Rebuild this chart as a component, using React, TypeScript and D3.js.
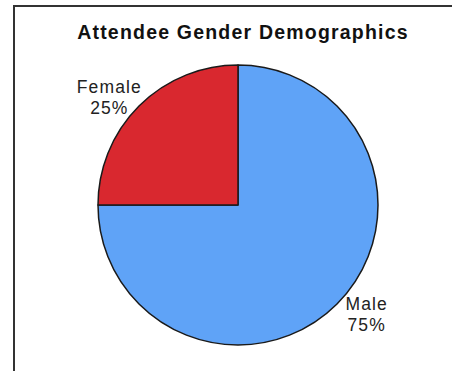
import React from "react";
import * as d3 from "d3";

const categories = ["Male", "Female"];
const values = [75, 25];
const percentLabels = ["75%", "25%"];
const colors = ["#5fa3f7", "#d9282f"];
const title = "Attendee Gender Demographics";

export default function App() {
  const width = 452;
  const height = 371;
  const cx = 238;
  const cy = 205;
  const r = 140;

  const pie = d3.pie<number>().sort(null).value((d) => d).startAngle(0).endAngle(2 * Math.PI);
  const arcs = pie(values);
  const arcGen = d3.arc<d3.PieArcDatum<number>>().innerRadius(0).outerRadius(r);

  const font = "'Liberation Sans', Arial, Helvetica, sans-serif";

  return (
    <svg
      width={width}
      height={height}
      style={{ position: "absolute", left: 0, top: 0, background: "#fff" }}
    >
      <rect x={0} y={0} width={width} height={height} fill="#fff" />
      <path d={`M14,${height} L14,6 L${width},6`} fill="none" stroke="#333" strokeWidth={2} />
      <text
        x={243}
        y={39}
        textAnchor="middle"
        fontFamily={font}
        fontWeight="bold"
        fontSize={19.5}
        letterSpacing={1.2}
        fill="#111"
      >
        {title}
      </text>
      <g transform={`translate(${cx},${cy})`}>
        {arcs.map((a, i) => (
          <path key={categories[i]} d={arcGen(a) || ""} fill={colors[i]} stroke="#1a1a1a" strokeWidth={1.5} strokeLinejoin="round" />
        ))}
        {arcs.map((a, i) => {
          const mid = (a.startAngle + a.endAngle) / 2;
          const lx = Math.sin(mid) * 182;
          const ly = -Math.cos(mid) * 154;
          return (
            <g key={"l" + categories[i]} fontFamily={font} fontSize={17.5} fill="#222" textAnchor="middle" letterSpacing={1.1}>
              <text x={lx} y={ly - 3.5}>{categories[i]}</text>
              <text x={lx} y={ly + 17.5}>{percentLabels[i]}</text>
            </g>
          );
        })}
      </g>
    </svg>
  );
}
